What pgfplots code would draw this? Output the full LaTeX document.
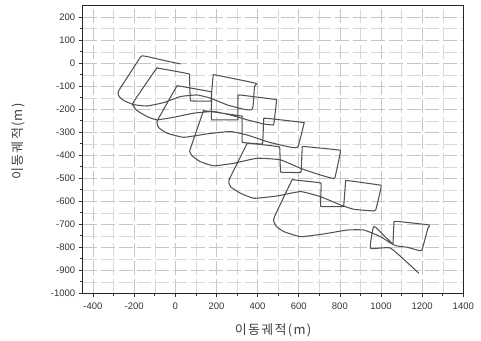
\documentclass[border=0pt]{standalone}
\usepackage{pgfplots}
\pgfplotsset{compat=1.18}
\usepackage{fontspec}
\setmainfont{Liberation Sans}
\newfontfamily\kr[LetterSpace=10]{Noto Sans CJK KR}
\begin{document}
\begin{tikzpicture}
\begin{axis}[
  at={(0,0)}, anchor=south west,
  scale only axis, width=380.6pt, height=288.3pt,
  xmin=-450, xmax=1400, ymin=-1000, ymax=253,
  xtick={-400,-200,...,1400}, minor x tick num=1,
  ytick={-1000,-900,...,200}, minor y tick num=1,
  tick align=outside, xtick pos=bottom, ytick pos=left,
  major tick length=4pt, minor tick length=2.5pt,
  tick style={black!80, line width=0.6pt},
  axis line style={black!85, line width=0.9pt},
  grid=both,
  major grid style={gray!45, line width=0.5pt, dash pattern=on 14pt off 4pt},
  minor grid style={gray!30, line width=0.4pt, dash pattern=on 14pt off 4pt},
  tick label style={font=\fontsize{9.5}{11}\selectfont, text=black!80},
  xticklabel style={yshift=-2pt},
  /pgf/number format/assume math mode=true,
  /pgf/number format/1000 sep={},
  xlabel={\kr 이동궤적(m)}, ylabel={\kr 이동궤적(m)},
  every axis x label/.style={at={(axis description cs:0.5,0)}, anchor=center, yshift=-36.7pt, font=\fontsize{13}{15}\selectfont, text=black!75},
  every axis y label/.style={at={(axis description cs:0,0.5265)}, anchor=center, xshift=-64.7pt, rotate=90, font=\fontsize{13}{15}\selectfont, text=black!75},
]
\addplot[black!68, line width=1.05pt, smooth, tension=0.25, mark=none] coordinates {
(25,-3) (-40,9) (-137,29) (-162,32) (-170,26) (-222,-46) (-277,-123) (-275,-142) (-251,-162) (-202,-180) (-137,-186) (-56,-171) (25,-145) (106,-138) (171,-152) (252,-181) (333,-200) (369,-203) (378,-188)
(385,-101) (390,-87) (195,-51) (184,-55) (174,-159) (171,-165) (82,-164) (73,-159) (69,-58) (65,-46) (-81,-22) (-94,-26) (-202,-167) (-207,-181)
(-186,-206) (-137,-232) (-89,-246) (-8,-235) (90,-217) (187,-210) (268,-225) (349,-246) (430,-264) (471,-268)
(479,-264) (492,-162) (482,-157) (313,-138) (305,-145) (304,-239) (301,-246) (187,-246) (176,-242) (176,-130) (168,-123) (17,-99) (5,-104) (-81,-239) (-89,-258) (-81,-280)
(-40,-304) (41,-322) (155,-307) (268,-297) (349,-312) (447,-341) (528,-359) (576,-367)
(597,-362) (625,-264) (617,-257) (438,-239) (430,-246) (425,-345) (419,-351) (333,-345) (325,-338) (325,-235) (317,-229) (146,-207) (134,-215) (77,-362) (70,-384) (82,-403)
(122,-428) (187,-446) (284,-435) (398,-413) (511,-420) (609,-457) (706,-486) (763,-500)
(776,-497) (803,-384) (792,-377) (625,-362) (617,-370) (612,-467) (605,-475) (519,-474) (511,-467) (508,-370) (498,-362) (357,-348) (346,-355) (265,-500) (260,-519) (271,-539)
(317,-565) (382,-587) (495,-577) (609,-558) (706,-580) (803,-616) (868,-635) (949,-641)
(974,-638) (1001,-536) (990,-529) (836,-510) (828,-516) (819,-616) (811,-623) (714,-623) (706,-616) (709,-525) (698,-519) (576,-507) (565,-512) (482,-667) (479,-688) (492,-710)
(528,-732) (609,-754) (722,-742) (836,-725) (917,-725) (998,-754) (1055,-786)
(1059,-768) (1063,-693) (1072,-687) (1233,-703) (1228,-717) (1200,-809) (1189,-815) (1128,-800) (1063,-790)
(974,-713) (962,-715) (949,-804) (1047,-804) (1184,-913)
};
\end{axis}
\pgfresetboundingbox
\path[use as bounding box] (-82.7pt,-46.7pt) rectangle (398.3pt,293.3pt);
\end{tikzpicture}
\end{document}
